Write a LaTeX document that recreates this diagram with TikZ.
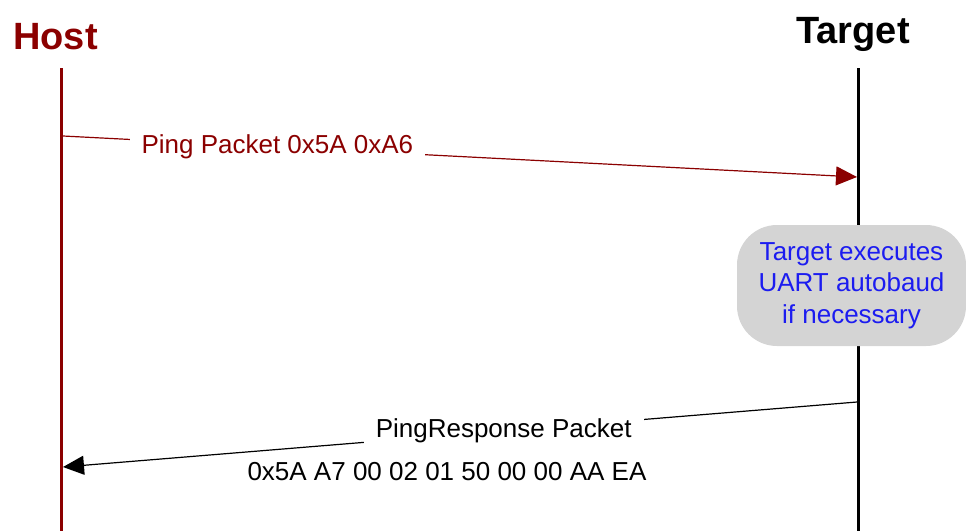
\documentclass[tikz,border=0pt]{standalone}
\usepackage{fontspec}
\setmainfont{Liberation Sans}
\usetikzlibrary{arrows.meta, positioning}
\definecolor{HostRed}{HTML}{8B0000}
\definecolor{NoteBlue}{HTML}{1C1CF0}
\definecolor{NoteGray}{HTML}{D4D4D4}

\begin{document}
\begin{tikzpicture}[x=1pt, y=-1pt,
    lifeline/.style={line width=3pt},
    msg/.style={line width=1.2pt, -{Triangle[length=21pt, width=19pt]}},
    msglabel/.style={fill=white, inner xsep=12pt, inner ysep=1pt, font=\fontsize{26}{31}\selectfont},
    actor/.style={font=\fontsize{38}{44}\selectfont\bfseries, anchor=base},
    notebox/.style={fill=NoteGray, rounded corners=40pt, minimum width=229pt, minimum height=121pt,
                    align=center, text=NoteBlue, font=\fontsize{26}{31.5}\selectfont}]
    \useasboundingbox (0,0) rectangle (966,531);

    % actors
    \node[actor, text=HostRed] (host) at (55.5,49) {Host};
    \node[actor] (target) at (853,43) {Target};

    % lifelines
    \coordinate (hosttop) at (61.5,68);
    \coordinate (hostbot) at (61.5,531);
    \coordinate (targettop) at (858.5,68);
    \coordinate (targetbot) at (858.5,531);
    \draw[lifeline, HostRed] (hosttop) -- (hostbot);
    \draw[lifeline] (targettop) -- (targetbot);

    % ping request
    \coordinate (pingstart) at (63,136);
    \coordinate (pingend) at (857,177);
    \draw[msg, HostRed] (pingstart) -- node[msglabel, text=HostRed, pos=0.27] (pinglabel) {Ping Packet 0x5A 0xA6} (pingend);

    % autobaud note
    \node[notebox] (autobaud) at (851.5,285.5) {Target executes\\UART autobaud\\if necessary};

    % ping response
    \coordinate (respstart) at (857,402);
    \coordinate (respend) at (63,467);
    \draw[msg] (respstart) -- node[msglabel, pos=0.445] (resplabel) {PingResponse Packet} (respend);
    \node[font=\fontsize{26}{31}\selectfont, anchor=base] (respbytes) at (447,480) {0x5A A7 00 02 01 50 00 00 AA EA};
\end{tikzpicture}
\end{document}
